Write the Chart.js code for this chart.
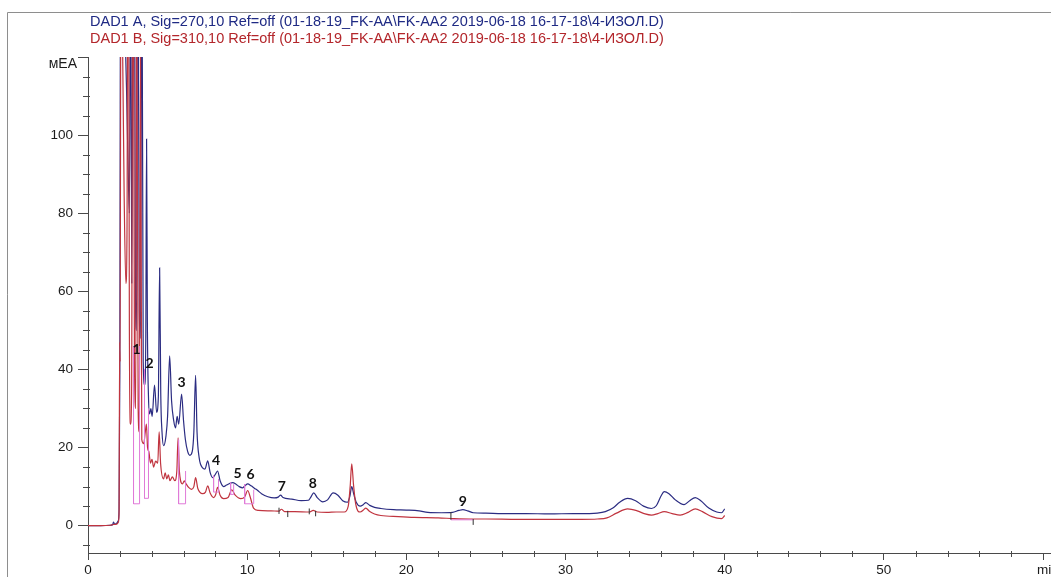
<!DOCTYPE html>
<html>
<head>
<meta charset="utf-8">
<script src="https://cdn.jsdelivr.net/npm/chart.js@4.4.1/dist/chart.umd.min.js"></script>
<style>
  html, body { margin: 0; padding: 0; background: #fff; overflow: hidden; }
  canvas { display: block; }
</style>
</head>
<body>
<canvas id="chrom" width="1051" height="577"></canvas>
<script>
// Signal A (DAD1 A, 270 nm): retention time, min / response, mAU
const timesA = [
  0, 0.8, 1.4, 1.55, 1.6, 1.68, 1.8, 1.9, 1.95, 2.0,
  2.05, 2.12, 2.2, 2.32, 2.42, 2.5, 2.6, 2.68, 2.75, 2.88,
  2.98, 3.05, 3.12, 3.22, 3.3, 3.38, 3.47, 3.56, 3.63, 3.68,
  3.73, 3.8, 3.87, 3.95, 4.03, 4.18, 4.31, 4.42, 4.5, 4.57,
  4.65, 4.75, 4.9, 5.0, 5.13, 5.25, 5.38, 5.5, 5.6, 5.7,
  5.88, 6.0, 6.12, 6.26, 6.4, 6.55, 6.65, 6.76, 6.85, 6.98,
  7.2, 7.35, 7.52, 7.68, 7.83, 7.98, 8.14, 8.3, 8.52, 8.7,
  8.9, 9.09, 9.3, 9.5, 9.72, 9.88, 10.03, 10.25, 10.45, 10.66,
  10.9, 11.3, 11.7, 11.95, 12.1, 12.25, 12.8, 13.4, 13.85, 14.0,
  14.18, 14.4, 14.75, 15.05, 15.4, 15.7, 16.0, 16.3, 16.45, 16.57,
  16.7, 16.85, 17.1, 17.3, 17.45, 17.7, 18.0, 18.4, 19.2, 20.0,
  20.8, 21.35, 22.2, 22.9, 23.3, 23.55, 23.85, 24.2, 25.0, 26.0,
  27.5, 29.0, 30.5, 31.5, 32.0, 32.5, 33.0, 33.4, 33.9, 34.4,
  34.9, 35.4, 35.7, 36.0, 36.2, 36.5, 36.9, 37.45, 37.8, 38.15,
  38.5, 39.0, 39.5, 39.8, 40.0
];
const signalA = [
  0, 0, 0.1, 0.3, 0.9, 0.4, 0.6, 1.2, 4, 40,
  175, 230, 150, 128, 112, 96, 80, 150, 62, 210,
  58, 50, 185, 55, 48, 160, 42, 36, 48, 99,
  52, 33, 28.6, 30, 28, 36, 29, 33, 66, 34,
  24, 20.5, 23, 28, 43.5, 32, 27, 25, 28, 26,
  33.7, 27, 22, 19, 18, 19, 24, 38.5, 24, 17.5,
  14.8, 14.5, 16.6, 13.5, 12.3, 13, 14, 11.5, 10, 10.4,
  10.8, 11, 10.6, 10, 9.7, 10.3, 10.7, 10.2, 9.6, 9,
  8.2, 7.4, 7.1, 7.3, 7.8, 7.2, 6.8, 6.4, 6.5, 7.3,
  8.4, 7.2, 6.1, 6.6, 8.4, 7.8, 6.4, 6.0, 7.5, 10,
  8, 6, 5, 5.4, 5.9, 5.2, 4.7, 4.4, 4.1, 4.0,
  3.8, 3.4, 3.3, 3.4, 3.9, 4.1, 3.8, 3.3, 3.2, 3.1,
  3.1, 3.0, 3.1, 3.1, 3.2, 3.6, 4.6, 6.0, 7.0, 6.4,
  5.0, 4.4, 5.1, 7.6, 8.7, 8.2, 6.6, 5.4, 6.4, 7.2,
  6.4, 4.5, 3.5, 3.3, 4.3
];

// Signal B (DAD1 B, 310 nm): retention time, min / response, mAU
const timesB = [
  0, 0.8, 1.4, 1.6, 1.8, 1.9, 1.95, 1.99, 2.02, 2.08,
  2.18, 2.28, 2.38, 2.45, 2.52, 2.6, 2.67, 2.74, 2.82, 2.92,
  3.0, 3.05, 3.15, 3.22, 3.3, 3.38, 3.5, 3.6, 3.67, 3.74,
  3.82, 3.93, 4.02, 4.12, 4.25, 4.38, 4.47, 4.56, 4.75, 4.85,
  4.95, 5.05, 5.15, 5.3, 5.45, 5.58, 5.66, 5.74, 5.94, 6.05,
  6.15, 6.32, 6.5, 6.65, 6.76, 6.9, 7.2, 7.38, 7.52, 7.68,
  7.9, 8.02, 8.14, 8.3, 8.52, 8.8, 9.03, 9.25, 9.6, 9.85,
  10.03, 10.2, 10.4, 10.7, 11.5, 12.0, 12.15, 12.35, 13.0, 13.9,
  14.15, 14.4, 15.0, 15.6, 16.1, 16.35, 16.47, 16.57, 16.68, 16.82,
  17.1, 17.3, 17.45, 17.7, 18.0, 18.4, 19.5, 20.5, 22.0, 23.0,
  24.0, 25.0, 27.0, 29.0, 31.0, 32.0, 32.6, 33.2, 33.9, 34.5,
  35.0, 35.4, 35.8, 36.2, 36.7, 37.2, 37.7, 38.15, 38.6, 39.2,
  39.8, 40.0
];
const signalB = [
  0, 0, 0.1, 0.3, 0.4, 0.8, 3, 47, 42, 200,
  120, 82, 62, 75, 190, 50, 26, 34, 180, 42,
  30, 150, 30, 24, 120, 22, 21, 24, 26, 20,
  19, 16, 17, 15, 16.5, 16, 24, 16, 12, 13.5,
  12, 13, 11.5, 12.5, 11.5, 14, 22.5, 14, 10.7, 11.5,
  10.8, 9.8, 9.3, 10, 12.3, 9.5, 8.2, 8.6, 10.2, 8.3,
  7.2, 7.9, 9.8, 7.8, 6.9, 7.2, 9.2, 7.8, 6.9, 7.4,
  9, 7.2, 4.5, 3.9, 3.8, 3.7, 4.2, 3.6, 3.6, 3.5,
  3.9, 3.5, 3.4, 3.5, 3.5, 5, 10, 15.8, 10.5, 5.5,
  3.5, 4, 4.5, 3.6, 3.0, 2.6, 2.3, 2.1, 2.0, 1.8,
  1.7, 1.7, 1.6, 1.6, 1.6, 1.7, 2.0, 3.2, 4.3, 3.8,
  3.0, 2.7, 3.1, 3.6, 3.1, 2.7, 3.4, 4.3, 3.6, 2.3,
  1.8, 2.6
];

// Integration events: start/end time, baseline level and drop-line tops (mAU)
const integStart     = [2.86, 3.55, 5.69, 7.89, 8.96, 9.84, 22.8];
const integEnd       = [3.24, 3.80, 6.13, 8.20, 9.15, 10.41, 24.2];
const integBase      = [5.6, 7.0, 5.6, 8.6, 8.0, 5.6, 1.5];
const integRiseStart = [46, 40, 22, 12.8, 11, 10.6, 1.5];
const integRiseEnd   = [46, 30, 14, 12, 10.6, 9.2, 1.5];

// Integrator tick marks: time and span (mAU)
const eventTimes = [12.0, 12.55, 13.9, 14.3, 22.8, 24.2];
const eventLow   = [3.0, 2.2, 2.9, 2.4, 1.5, 0.2];
const eventHigh  = [4.6, 3.8, 4.4, 3.8, 3.5, 1.7];

// Numbered peaks: retention time and label level (mAU)
const peakNumbers     = ['1', '2', '3', '4', '5', '6', '7', '8', '9'];
const peakTimes       = [3.05, 3.87, 5.88, 8.05, 9.4, 10.22, 12.17, 14.12, 23.55];
const peakLabelLevels = [45.2, 41.4, 36.6, 16.6, 13.3, 13.0, 10.0, 10.7, 6.1];

// Axes
const xTickValues = [0, 10, 20, 30, 40, 50, 60];
const xTickLabels = ['0', '10', '20', '30', '40', '50', ''];
const yTickValues = [0, 20, 40, 60, 80, 100, 120];
const yTickLabels = ['0', '20', '40', '60', '80', '100', ''];
const xUnit = 'min';
const yUnit = 'мЕА';

const seriesLabels = [
  'DAD1 A, Sig=270,10 Ref=off (01-18-19_FK-AA\\FK-AA2 2019-06-18 16-17-18\\4-ИЗОЛ.D)',
  'DAD1 B, Sig=310,10 Ref=off (01-18-19_FK-AA\\FK-AA2 2019-06-18 16-17-18\\4-ИЗОЛ.D)'
];

const colorA = '#2b2c82';
const colorB = '#c0343f';
const titleColors = ['#1f2a84', '#b3262b'];
const integColor = '#e07ad8';
const axisColor = '#4a4a4a';
const textColor = '#1c1c1c';
const tickFont = { family: '"Liberation Sans", Arial, sans-serif', size: 13.5 };

const toPoints = (xs, ys) => xs.map((t, i) => ({ x: t, y: ys[i] }));

// drop lines and baselines of the integrated peaks, broken between events
const integPoints = [];
integStart.forEach((t0, i) => {
  const t1 = integEnd[i];
  integPoints.push({ x: t0, y: integRiseStart[i] }, { x: t0, y: integBase[i] },
                   { x: t1, y: integBase[i] }, { x: t1, y: integRiseEnd[i] },
                   { x: t1, y: null });
});
const eventPoints = [];
eventTimes.forEach((t, i) => {
  eventPoints.push({ x: t, y: eventLow[i] }, { x: t, y: eventHigh[i] }, { x: t, y: null });
});

const chromDecor = {
  id: 'chromDecor',
  beforeDraw(chart) {
    const { ctx, width, height } = chart;
    ctx.save();
    ctx.fillStyle = '#fff';
    ctx.fillRect(0, 0, width, height);
    ctx.strokeStyle = '#8e8e8e';
    ctx.lineWidth = 1;
    ctx.beginPath();
    ctx.moveTo(7.5, height);
    ctx.lineTo(7.5, 12.5);
    ctx.lineTo(width, 12.5);
    ctx.stroke();
    ctx.restore();
  },
  afterDraw(chart) {
    const { ctx } = chart;
    const xs = chart.scales.x, ys = chart.scales.y;
    ctx.save();
    // minor tick marks
    ctx.strokeStyle = axisColor;
    ctx.lineWidth = 1;
    ctx.beginPath();
    for (let v = -5; v < 120; v += 5) {
      if (v % 20 === 0) continue;
      const py = Math.round(ys.getPixelForValue(v)) + 0.5;
      ctx.moveTo(xs.left - 5, py);
      ctx.lineTo(xs.left + 2, py);
    }
    for (let v = 2; v < xs.max; v += 2) {
      if (v % 10 === 0) continue;
      const px = Math.round(xs.getPixelForValue(v)) + 0.5;
      ctx.moveTo(px, ys.bottom - 2);
      ctx.lineTo(px, ys.bottom + 4);
    }
    ctx.stroke();

    // axis units
    ctx.fillStyle = textColor;
    ctx.font = '14px "Liberation Sans", Arial, sans-serif';
    ctx.textBaseline = 'middle';
    ctx.textAlign = 'right';
    ctx.fillText(yUnit, 77, 64);
    ctx.font = '13.5px "Liberation Sans", Arial, sans-serif';
    ctx.textAlign = 'left';
    ctx.fillText(xUnit, xs.getPixelForValue(60) - 6, 570);

    // signal captions
    ctx.font = '14.5px "Liberation Sans", Arial, sans-serif';
    ctx.textAlign = 'left';
    [0, 1].forEach(i => {
      ctx.fillStyle = titleColors[i];
      ctx.fillText(chart.data.datasets[i].label, 90, 22 + i * 16.5);
    });

    // peak numbers
    ctx.font = 'bold 14px Lato, "Open Sans", sans-serif';
    ctx.fillStyle = '#111';
    ctx.textAlign = 'center';
    peakNumbers.forEach((n, i) => {
      ctx.fillText(n, xs.getPixelForValue(peakTimes[i]), ys.getPixelForValue(peakLabelLevels[i]));
    });
    ctx.restore();
  }
};

new Chart(document.getElementById('chrom'), {
  type: 'line',
  data: {
    datasets: [
      {
        label: seriesLabels[0],
        data: toPoints(timesA, signalA),
        borderColor: colorA,
        borderWidth: 1.2,
        pointRadius: 0,
        cubicInterpolationMode: 'monotone',
        order: 3
      },
      {
        label: seriesLabels[1],
        data: toPoints(timesB, signalB),
        borderColor: colorB,
        borderWidth: 1.2,
        pointRadius: 0,
        cubicInterpolationMode: 'monotone',
        order: 2
      },
      {
        label: 'baselines',
        data: integPoints,
        borderColor: integColor,
        borderWidth: 1,
        pointRadius: 0,
        tension: 0,
        spanGaps: false,
        order: 1
      },
      {
        label: 'events',
        data: eventPoints,
        borderColor: '#333',
        borderWidth: 1,
        pointRadius: 0,
        tension: 0,
        spanGaps: false,
        order: 0
      }
    ]
  },
  options: {
    responsive: false,
    animation: false,
    devicePixelRatio: 1,
    layout: { padding: { left: 0, top: 57, right: 0, bottom: 0 } },
    plugins: {
      legend: { display: false },
      tooltip: { enabled: false },
      title: { display: false }
    },
    scales: {
      x: {
        type: 'linear',
        position: 'bottom',
        min: 0,
        max: 60.5,
        afterBuildTicks: s => { s.ticks = xTickValues.map(v => ({ value: v })); },
        afterFit: s => { s.height = 24; },
        ticks: {
          autoSkip: false,
          maxRotation: 0,
          padding: 2,
          color: textColor,
          font: tickFont,
          callback: (v, i) => xTickLabels[i]
        },
        grid: { drawOnChartArea: false, drawTicks: true, tickLength: 7, color: axisColor, tickColor: axisColor },
        border: { display: true, color: axisColor, width: 1 }
      },
      y: {
        type: 'linear',
        position: 'left',
        min: -7,
        max: 120,
        afterBuildTicks: s => { s.ticks = yTickValues.map(v => ({ value: v })); },
        afterFit: s => { s.width = 88; },
        ticks: {
          padding: 5,
          color: textColor,
          font: tickFont,
          callback: (v, i) => yTickLabels[i]
        },
        grid: { drawOnChartArea: false, drawTicks: true, tickLength: 10, color: axisColor, tickColor: axisColor },
        border: { display: true, color: axisColor, width: 1 }
      }
    }
  },
  plugins: [chromDecor]
});
</script>
</body>
</html>
